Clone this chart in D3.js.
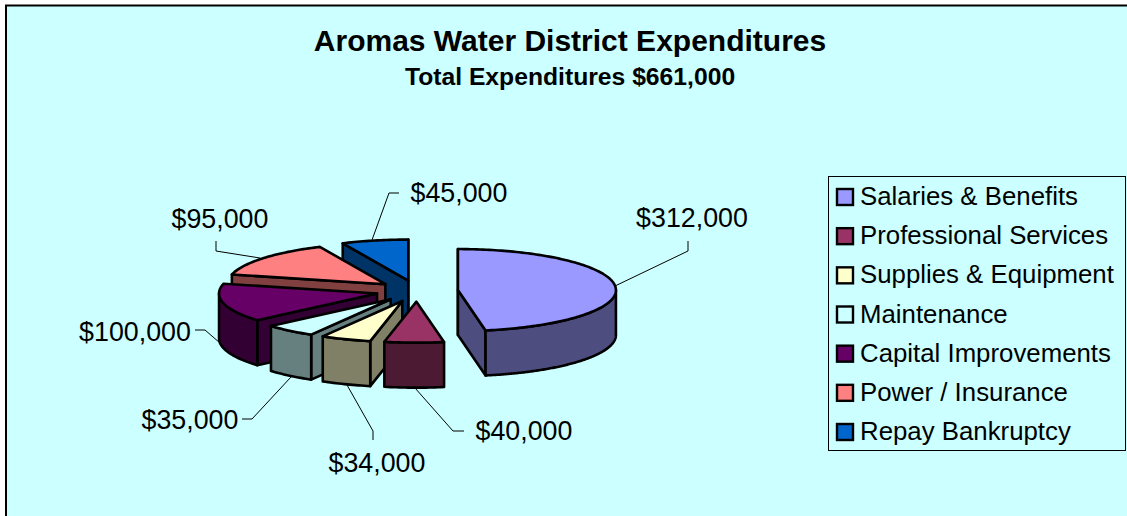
<!DOCTYPE html>
<html><head><meta charset="utf-8">
<script src="https://cdn.jsdelivr.net/npm/d3@7/dist/d3.min.js"></script>
<style>html,body{margin:0;padding:0;background:#fff}svg{display:block}text{font-family:"Liberation Sans",Arial,sans-serif;fill:#000}</style>
</head><body><svg id="c" width="1127" height="516"></svg>
<script>
const categories = ["Salaries & Benefits","Professional Services","Supplies & Equipment","Maintenance","Capital Improvements","Power / Insurance","Repay Bankruptcy"];
const values = [312000,40000,34000,35000,100000,95000,45000];
const topColors = ["#9999FF","#993366","#FFFFCC","#CCFFFF","#660066","#FF8080","#0066CC"];
const sideColors = ["#4D4D80","#4D1A33","#808066","#668080","#330033","#804040","#003366"];
const titleText = "Aromas Water District Expenditures";
const subtitleText = "Total Expenditures $661,000";

// layout
const cx=417, cy=291, rx=158, ry=41, depth=45, explode=0.26;
const labelPos = [[692,227],[524,440],[377,472],[190,429],[135,341],[220,228],[459,202]];
const leaders = [
 [[615,286],[688,251],[688,241]],
 [[415,388],[453,431],[464,431]],
 [[347,385],[373,431],[373,440]],
 [[291,377],[252,419],[242,419]],
 [[220,343],[205,330],[195,330]],
 [[260,258],[216,251],[216,241]],
 [[372,240],[389,193],[399,193]]
];

const svg = d3.select("#c");
svg.append("rect").attr("x",6).attr("y",5.5).attr("width",1140).attr("height",530)
   .attr("fill","#CCFFFF").attr("stroke","#000").attr("stroke-width",2);

svg.append("text").attr("x",570).attr("y",51).attr("text-anchor","middle")
   .attr("font-weight","bold").attr("font-size",30).text(titleText);
svg.append("text").attr("x",570).attr("y",85).attr("text-anchor","middle")
   .attr("font-weight","bold").attr("font-size",24.7).text(subtitleText);

const arcs = d3.pie().sort(null).value(d=>d)(values);
const px = d3.scaleLinear().domain([-1,1]).range([cx-rx,cx+rx]);
const py = d3.scaleLinear().domain([-1,1]).range([cy-ry,cy+ry]);
const line = d3.line();
const eps = 1e-6;

function slice(d,i){
  const mid=(d.startAngle+d.endAngle)/2;
  const ax=px(explode*Math.sin(mid)), ay=py(-explode*Math.cos(mid));
  const pt=a=>[ax+rx*Math.sin(a), ay-ry*Math.cos(a)];
  const down=p=>[p[0],p[1]+depth];
  const n=Math.max(8,Math.ceil((d.endAngle-d.startAngle)*50));
  const sample=(a0,a1)=>d3.range(n+1).map(k=>pt(a0+(a1-a0)*k/n));
  const g=svg.append("g").attr("class","slice").attr("stroke","#000").attr("stroke-width",2.6).attr("stroke-linejoin","round");
  const apex=[ax,ay];
  const face=p=>g.append("path").attr("d",line([apex,p,down(p),down(apex)])+"Z").attr("fill",sideColors[i]);
  // cut faces are drawn only when they turn toward the viewer
  if(Math.sin(d.startAngle)<eps) face(pt(d.startAngle));
  if(Math.sin(d.endAngle)>-eps) face(pt(d.endAngle));
  // outer wall
  const w0=Math.max(d.startAngle,Math.PI/2), w1=Math.min(d.endAngle,Math.PI*1.5);
  if(w1>w0){
    const s=sample(w0,w1);
    g.append("path").attr("d",line(s.concat(s.slice().reverse().map(down)))+"Z").attr("fill",sideColors[i]);
  }
  g.append("path").attr("d",line([apex].concat(sample(d.startAngle,d.endAngle)))+"Z").attr("fill",topColors[i]);
}
// paint from the back of the pie to the front
[6,5,4,3,2,1,0].forEach(i=>slice(arcs[i],i));

const lineG=svg.append("g").attr("fill","none").attr("stroke","#000").attr("stroke-width",1);
leaders.forEach(l=>lineG.append("path").attr("d",line(l)));
values.forEach((v,i)=>svg.append("text").attr("x",labelPos[i][0]).attr("y",labelPos[i][1])
  .attr("text-anchor","middle").attr("font-size",26.8).text("$"+d3.format(",")(v)));

svg.append("rect").attr("x",828.5).attr("y",176.5).attr("width",297).attr("height",274)
   .attr("fill","#CCFFFF").attr("stroke","#000").attr("stroke-width",1);
const ly=d3.scalePoint().domain(categories).range([197,432]);
categories.forEach((c,i)=>{
  svg.append("rect").attr("x",837).attr("y",ly(c)-8).attr("width",16).attr("height",16)
     .attr("fill",topColors[i]).attr("stroke","#000").attr("stroke-width",2.4);
  svg.append("text").attr("x",860).attr("y",ly(c)+8).attr("font-size",25.8).text(c);
});
</script></body></html>
